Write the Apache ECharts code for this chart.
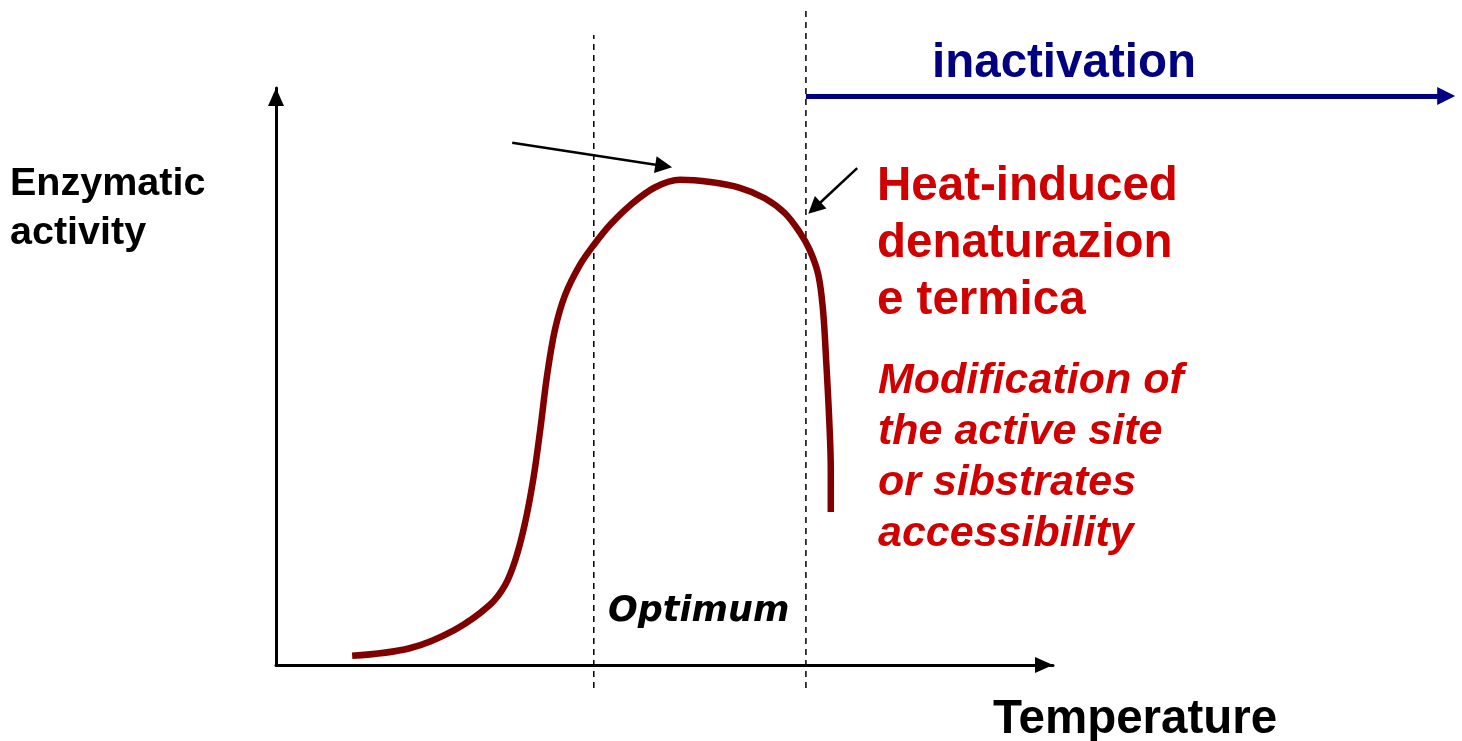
<!DOCTYPE html>
<html>
<head>
<meta charset="utf-8">
<title>Enzymatic activity vs temperature</title>
<script src="https://cdn.jsdelivr.net/npm/echarts@6/dist/echarts.min.js"></script>
<style>
  html, body { margin: 0; padding: 0; background: #fff; }
  #main { width: 1462px; height: 741px; }
</style>
</head>
<body>
<div id="main"></div>
<script>
// curve: temperature (0-100) vs activity (0-100)
const temperature = [9.8, 17.2, 23.0, 27.5, 29.5, 30.8, 32.0, 33.1, 34.0, 34.9, 35.9, 37.2, 39.1, 40.9, 43.0, 45.6, 48.8, 52.0, 55.9, 59.7, 62.9, 65.5, 67.4, 68.7, 69.8, 70.4, 70.8, 71.2, 71.4, 71.4];
const activity = [1.6, 2.9, 6.1, 10.4, 13.9, 18.2, 24.3, 32.1, 40.7, 50.3, 58.1, 64.1, 69.3, 72.8, 76.3, 79.7, 82.8, 84.1, 83.7, 82.7, 80.9, 78.3, 75.0, 71.9, 67.6, 61.5, 52.9, 42.5, 33.8, 26.5];

// dashed bounds of the optimum zone
const optimumLow = [[40.9, -4], [40.9, 109.2]];
const optimumHigh = [[68.2, -4], [68.2, 113.9]];

// annotation arrows [from, to]
const peakArrow = [[30.4, 90.5], [49.9, 86.5]];
const heatArrow = [[74.8, 86.1], [69.3, 79.2]];
const inactivationArrow = [[68.2, 98.6], [150.6, 98.6]];

const yLabel = ['Enzymatic', 'activity'];
const heatText = ['Heat-induced', 'denaturazion', 'e termica'];
const modText = ['Modification of', 'the active site', 'or sibstrates', 'accessibility'];

const curve = temperature.map((t, i) => [t, activity[i]]);

function textEl(str, x, y, size, color, italic, family) {
  return {
    type: 'text',
    left: x,
    top: y,
    style: {
      text: str,
      fill: color,
      font: (italic ? 'italic ' : '') + 'bold ' + size + 'px ' + (family || '"Liberation Sans", Arial, sans-serif'),
      textVerticalAlign: 'middle'
    }
  };
}

const graphics = [];
yLabel.forEach((s, i) => graphics.push(textEl(s, 10, 164 + i * 49, 39.5, '#000')));
heatText.forEach((s, i) => graphics.push(textEl(s, 877, 163 + i * 57, 47.5, '#d00000')));
modText.forEach((s, i) => graphics.push(textEl(s, 878, 360 + i * 51, 43, '#d00000', true)));
graphics.push(textEl('inactivation', 932, 40, 47.5, '#000080'));
graphics.push(textEl('Temperature', 993, 696, 47.5, '#000'));
graphics.push(textEl('Optimum', 608, 594, 35, '#000', true, '"DejaVu Sans", Verdana, sans-serif'));

const chart = echarts.init(document.getElementById('main'));
chart.setOption({
  backgroundColor: '#fff',
  animation: false,
  grid: { left: 276, right: 409, top: 88, bottom: 76 },
  xAxis: {
    type: 'value', min: 0, max: 100,
    axisLine: { lineStyle: { color: '#000', width: 3 }, symbol: ['none', 'triangle'], symbolSize: [16, 18], symbolOffset: [0, -9] },
    axisTick: { show: false }, axisLabel: { show: false }, splitLine: { show: false }
  },
  yAxis: {
    type: 'value', min: 0, max: 100,
    axisLine: { lineStyle: { color: '#000', width: 3 }, symbol: ['none', 'triangle'], symbolSize: [16, 18], symbolOffset: [0, -9] },
    axisTick: { show: false }, axisLabel: { show: false }, splitLine: { show: false }
  },
  graphic: graphics,
  series: [
    {
      type: 'line', data: optimumLow, clip: false, symbol: 'none', silent: true,
      lineStyle: { color: '#000', width: 1.5, type: [6, 5] }
    },
    {
      type: 'line', data: optimumHigh, clip: false, symbol: 'none', silent: true,
      lineStyle: { color: '#000', width: 1.5, type: [6, 5] }
    },
    {
      type: 'line', data: curve, smooth: 0.35, symbol: 'none', clip: false,
      lineStyle: { color: '#800000', width: 6.5, cap: 'butt' }, z: 5
    },
    {
      type: 'lines', coordinateSystem: 'cartesian2d', clip: false,
      symbol: ['none', 'triangle'], symbolSize: [14, 17],
      lineStyle: { color: '#000', width: 2.5, opacity: 1 },
      data: [{ coords: peakArrow }, { coords: heatArrow }]
    },
    {
      type: 'lines', coordinateSystem: 'cartesian2d', clip: false,
      symbol: ['none', 'triangle'], symbolSize: [16, 18],
      lineStyle: { color: '#000080', width: 5, opacity: 1 },
      data: [{ coords: inactivationArrow }]
    }
  ]
});
</script>
</body>
</html>
